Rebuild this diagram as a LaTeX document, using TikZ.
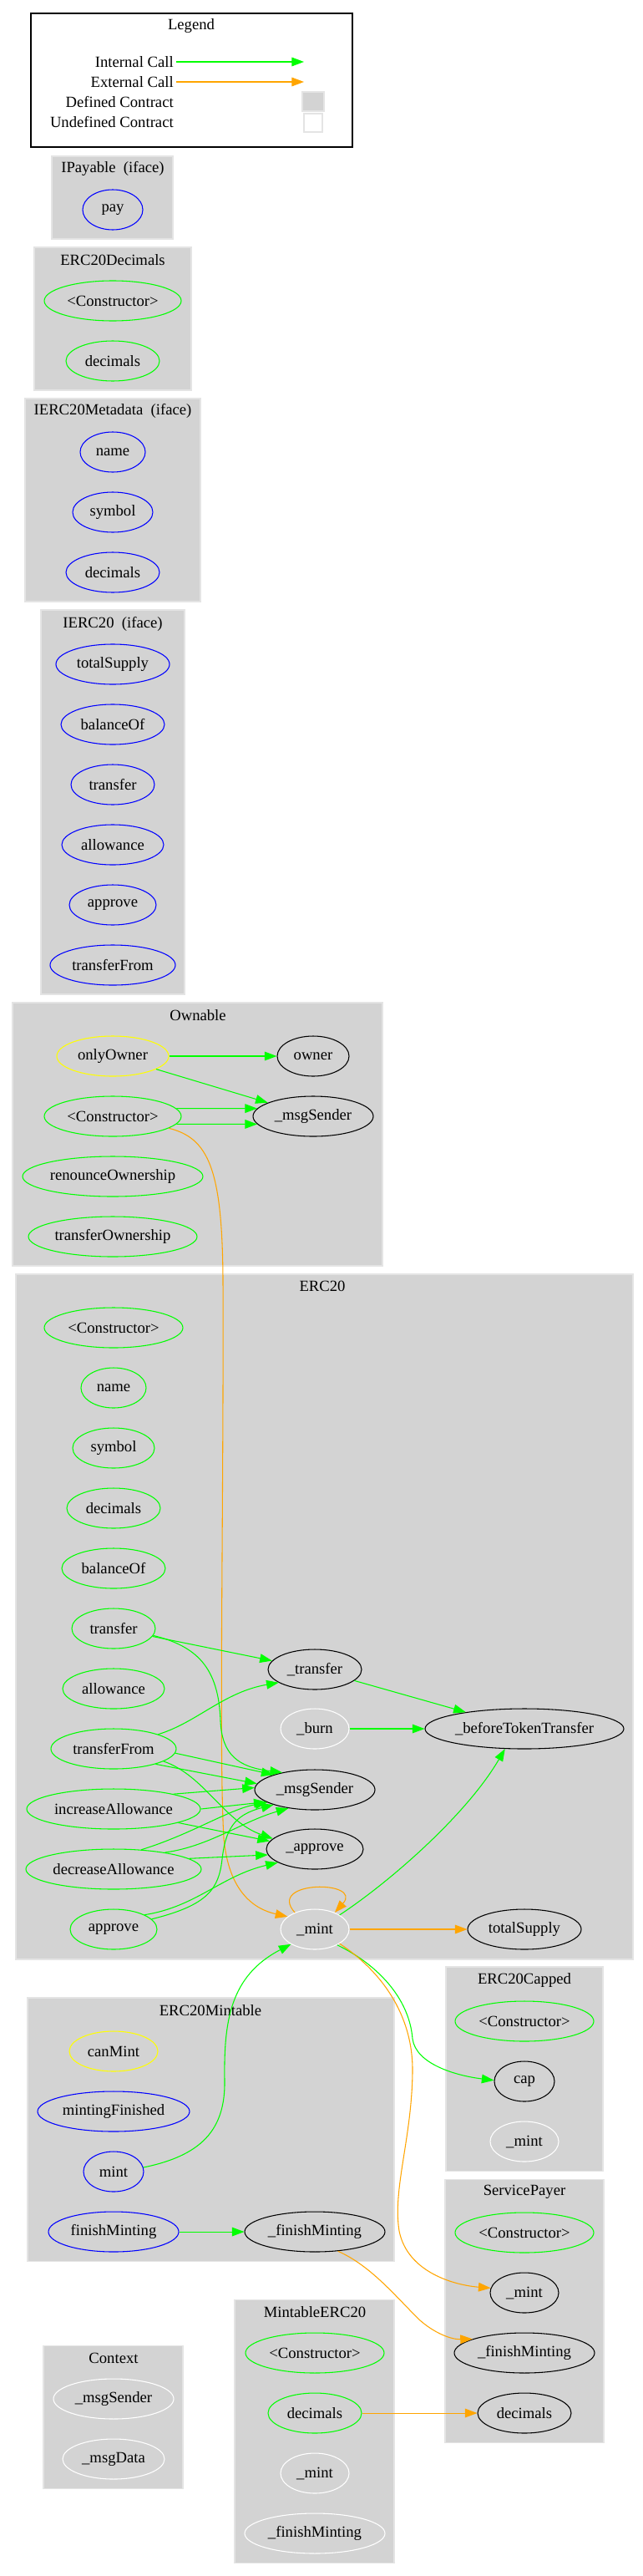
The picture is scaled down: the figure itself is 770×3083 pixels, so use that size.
\documentclass[tikz,border=0pt]{standalone}
\usepackage{fontspec}
\setmainfont{Liberation Serif}
\usetikzlibrary{shapes.geometric,arrows.meta}
\definecolor{gvgreen}{HTML}{00FF00}
\definecolor{gvblue}{HTML}{0000FF}
\definecolor{gvyellow}{HTML}{FFFF00}
\definecolor{gvorange}{HTML}{FFA500}
\definecolor{clgray}{HTML}{D3D3D3}
\definecolor{clborder}{HTML}{E4E4E4}
\tikzset{
  fn/.style={ellipse, inner sep=0pt, minimum height=36pt, line width=0.8pt, font=\fontsize{14pt}{16pt}\selectfont},
  gfn/.style={fn, draw=gvgreen},
  bfn/.style={fn, draw=gvblue},
  yfn/.style={fn, draw=gvyellow},
  kfn/.style={fn, draw=black},
  wfn/.style={fn, draw=white},
  cluster/.style={fill=clgray, draw=clborder, line width=0.8pt},
  ctitle/.style={inner sep=0pt, font=\fontsize{14pt}{16pt}\selectfont},
  lgtext/.style={inner sep=0pt, anchor=east, font=\fontsize{14pt}{16pt}\selectfont},
  icall/.style={draw=gvgreen, line width=0.8pt, -{Triangle[length=11pt,width=8pt]}},
  ecall/.style={draw=gvorange, line width=0.8pt, -{Triangle[length=11pt,width=8pt]}},
}
\begin{document}
\begin{tikzpicture}[x=0.75pt,y=-0.75pt]
\useasboundingbox (0,0) rectangle (770,3083);
\fill[white] (0,0) rectangle (770,3083);

% Legend
\draw[black, line width=0.8pt] (37,16) rectangle (422,176);
\node[ctitle] (lgTitle) at (229,31) {Legend};
\node[lgtext] (lgInt) at (208,74) {Internal Call};
\node[lgtext] (lgExt) at (208,98) {External Call};
\node[lgtext] (lgDef) at (208,122) {Defined Contract};
\node[lgtext] (lgUndef) at (208,146) {Undefined Contract};
\coordinate (lgIntEnd) at (364,74);
\coordinate (lgExtEnd) at (364,98);
\draw[icall] (lgInt.east) ++(3,0) -- (lgIntEnd);
\draw[ecall] (lgExt.east) ++(3,0) -- (lgExtEnd);
\path[fill=clgray, draw=clborder, line width=0.8pt] (362,110) rectangle (388,133);
\path[fill=white, draw=clborder, line width=0.8pt] (364,136) rectangle (386,158);

% Clusters
\path[cluster] (62,187) rectangle (207,286);
\path[cluster] (41,296) rectangle (229,467);
\path[cluster] (30,477) rectangle (240,720);
\path[cluster] (49,730) rectangle (221,1190);
\path[cluster] (15,1200) rectangle (458,1515);
\path[cluster] (19,1525) rectangle (758,2345);
\path[cluster] (534,2354) rectangle (722,2598);
\path[cluster] (533,2608) rectangle (723,2923);
\path[cluster] (33,2391) rectangle (472,2706);
\path[cluster] (281,2752) rectangle (472,3067);
\path[cluster] (52,2807) rectangle (219,2978);

% Cluster titles
\node[ctitle] (tIPay) at (135,202) {IPayable\ \ (iface)};
\node[ctitle] (tDec) at (135,311) {ERC20Decimals};
\node[ctitle] (tMeta) at (135,492) {IERC20Metadata\ \ (iface)};
\node[ctitle] (tIERC) at (135,747) {IERC20\ \ (iface)};
\node[ctitle] (tOwn) at (237,1215) {Ownable};
\node[ctitle] (tERC) at (386,1539) {ERC20};
\node[ctitle] (tCap) at (628,2370) {ERC20Capped};
\node[ctitle] (tSP) at (628,2623) {ServicePayer};
\node[ctitle] (tMt) at (252,2406) {ERC20Mintable};
\node[ctitle] (tME) at (377,2767) {MintableERC20};
\node[ctitle] (tCx) at (136,2822) {Context};

% IPayable
\node[bfn, minimum width=54pt] (pay) at (135,251) {pay};
% ERC20Decimals
\node[gfn, minimum width=123pt] (dcCtor) at (135,360) {<Constructor>};
\node[gfn, minimum width=84pt] (dcDec) at (135,432) {decimals};
% IERC20Metadata
\node[bfn, minimum width=58.5pt] (mdName) at (135,541) {name};
\node[bfn, minimum width=72pt] (mdSym) at (135,613) {symbol};
\node[bfn, minimum width=84pt] (mdDec) at (135,685) {decimals};
% IERC20
\node[bfn, minimum width=102pt] (ieTS) at (135,795) {totalSupply};
\node[bfn, minimum width=93pt] (ieBal) at (135,867) {balanceOf};
\node[bfn, minimum width=75pt] (ieTr) at (135,939) {transfer};
\node[bfn, minimum width=91.5pt] (ieAllow) at (135,1011) {allowance};
\node[bfn, minimum width=78pt] (ieAppr) at (135,1083) {approve};
\node[bfn, minimum width=112.5pt] (ieTF) at (135,1155) {transferFrom};
% Ownable
\node[yfn, minimum width=100.5pt] (owOnly) at (135,1264) {onlyOwner};
\node[kfn, minimum width=64.5pt] (owOwner) at (375,1264) {owner};
\node[gfn, minimum width=123pt] (owCtor) at (135,1336) {<Constructor>};
\node[kfn, minimum width=108pt] (owMsg) at (375,1336) {\_msgSender};
\node[gfn, minimum width=162pt] (owRen) at (135,1408) {renounceOwnership};
\node[gfn, minimum width=151.5pt] (owTrO) at (135,1480) {transferOwnership};
% ERC20
\node[gfn, minimum width=124.5pt] (eCtor) at (136,1589) {<Constructor>};
\node[gfn, minimum width=58.5pt] (eName) at (136,1661) {name};
\node[gfn, minimum width=73.5pt] (eSym) at (136,1733) {symbol};
\node[gfn, minimum width=84pt] (eDec) at (136,1805) {decimals};
\node[gfn, minimum width=93pt] (eBal) at (136,1877) {balanceOf};
\node[gfn, minimum width=75pt] (eTr) at (136,1949) {transfer};
\node[gfn, minimum width=91.5pt] (eAllow) at (136,2021) {allowance};
\node[gfn, minimum width=112.5pt] (eTF) at (136,2093) {transferFrom};
\node[gfn, minimum width=156pt] (eInc) at (136,2165) {increaseAllowance};
\node[gfn, minimum width=157.5pt] (eDecA) at (136,2237) {decreaseAllowance};
\node[gfn, minimum width=78pt] (eAppr) at (136,2309) {approve};
\node[kfn, minimum width=84pt] (eXfer) at (377,1998) {\_transfer};
\node[wfn, minimum width=61.5pt] (eBurn) at (377,2069) {\_burn};
\node[kfn, minimum width=178.5pt] (eBTT) at (628,2069) {\_beforeTokenTransfer};
\node[kfn, minimum width=108pt] (eMsg) at (377,2142) {\_msgSender};
\node[kfn, minimum width=87pt] (eApprI) at (377,2213) {\_approve};
\node[wfn, minimum width=61.5pt] (eMint) at (377,2309) {\_mint};
\node[kfn, minimum width=102pt] (eTS) at (628,2309) {totalSupply};
% ERC20Capped
\node[gfn, minimum width=124.5pt] (capCtor) at (628,2419) {<Constructor>};
\node[kfn, minimum width=54pt] (capCap) at (628,2491) {cap};
\node[wfn, minimum width=61.5pt] (capMint) at (628,2563) {\_mint};
% ServicePayer
\node[gfn, minimum width=124.5pt] (spCtor) at (628,2672) {<Constructor>};
\node[kfn, minimum width=61.5pt] (spMint) at (628,2744) {\_mint};
\node[kfn, minimum width=126pt] (spFin) at (628,2816) {\_finishMinting};
\node[kfn, minimum width=84pt] (spDec) at (628,2888) {decimals};
% ERC20Mintable
\node[yfn, minimum width=79.5pt] (mtCan) at (136,2455) {canMint};
\node[bfn, minimum width=136.5pt] (mtFin) at (136,2527) {mintingFinished};
\node[bfn, minimum width=54pt] (mtMint) at (136,2599) {mint};
\node[bfn, minimum width=117pt] (mtFM) at (136,2671) {finishMinting};
\node[kfn, minimum width=126pt] (mtIFM) at (377,2671) {\_finishMinting};
% MintableERC20
\node[gfn, minimum width=124.5pt] (meCtor) at (377,2816) {<Constructor>};
\node[gfn, minimum width=84pt] (meDec) at (377,2888) {decimals};
\node[wfn, minimum width=61.5pt] (meMint) at (377,2960) {\_mint};
\node[wfn, minimum width=126pt] (meFM) at (377,3032) {\_finishMinting};
% Context
\node[wfn, minimum width=108pt] (cxMsg) at (136,2871) {\_msgSender};
\node[wfn, minimum width=91.5pt] (cxData) at (136,2943) {\_msgData};

% Ownable edges
\draw[icall] (owOnly) -- (owOwner);
\draw[icall] (owOnly) -- (owMsg);
\draw[icall] (owCtor.7) -- (owMsg.172);
\draw[icall] (owCtor.-7) -- (owMsg.-172);
\draw[ecall] (owCtor.-12) .. controls (250,1362) and (266,1400) .. (267,1530)
  .. controls (268,1800) and (262,2100) .. (268,2200)
  .. controls (274,2265) and (305,2285) .. (eMint.155);

% ERC20 edges
\draw[icall] (eTr) -- (eXfer);
\draw[icall] (eTr.-10) .. controls (235,1970) and (262,1995) .. (264,2060)
  .. controls (266,2100) and (285,2115) .. (eMsg.152);
\draw[icall] (eXfer) -- (eBTT);
\draw[icall] (eBurn) -- (eBTT);
\draw[icall] (eTF.18) .. controls (235,2062) and (268,2025) .. (eXfer.200);
\draw[icall] (eTF.-4) -- (eMsg.160);
\draw[icall] (eTF.-20) -- (eMsg.174);
\draw[icall] (eTF.-14) .. controls (245,2125) and (268,2180) .. (eApprI.166);
\draw[icall] (eInc.14) -- (eMsg.178);
\draw[icall] (eInc.0) -- (eMsg.194);
\draw[icall] (eInc.-12) -- (eApprI.170);
\draw[icall] (eDecA.35) .. controls (230,2195) and (275,2165) .. (eMsg.195);
\draw[icall] (eDecA.18) .. controls (250,2210) and (290,2180) .. (eMsg.215);
\draw[icall] (eDecA.8) -- (eApprI.187);
\draw[icall] (eAppr.25) .. controls (235,2282) and (265,2245) .. (eApprI.200);
\draw[icall] (eAppr.15) .. controls (250,2280) and (262,2260) .. (266,2225)
  .. controls (270,2190) and (280,2172) .. (eMsg.200);
\draw[ecall] (eMint.140) .. controls (318,2250) and (436,2250) .. (eMint.40);
\draw[icall] (eMint.30) .. controls (470,2250) and (560,2170) .. (eBTT.226);
\draw[ecall] (eMint) -- (eTS);
\draw[icall] (eMint.-35) .. controls (450,2350) and (490,2390) .. (494,2440)
  .. controls (498,2470) and (545,2484) .. (capCap.178);
\draw[ecall] (eMint.-30) .. controls (455,2358) and (495,2410) .. (494,2480)
  .. controls (493,2560) and (470,2620) .. (478,2670)
  .. controls (488,2720) and (545,2735) .. (spMint.172);

% ERC20Mintable edges
\draw[icall] (mtMint.8) .. controls (240,2580) and (270,2550) .. (269,2490)
  .. controls (268,2420) and (275,2365) .. (eMint.212);
\draw[icall] (mtFM) -- (mtIFM);
\draw[ecall] (mtIFM.-40) .. controls (445,2712) and (475,2750) .. (503,2777)
  .. controls (520,2792) and (540,2800) .. (spFin.165);

% MintableERC20 edges
\draw[ecall] (meDec) -- (spDec);
\end{tikzpicture}
\end{document}
